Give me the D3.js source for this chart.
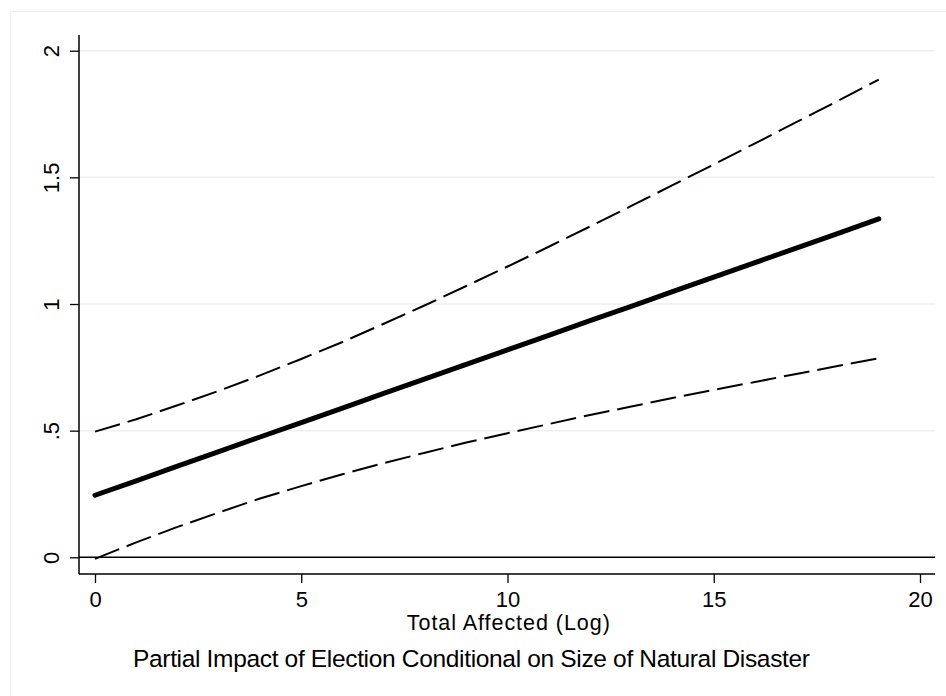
<!DOCTYPE html>
<html>
<head>
<meta charset="utf-8">
<script src="https://cdn.jsdelivr.net/npm/d3@7"></script>
<style>
  html, body { margin: 0; padding: 0; background: #fff; }
  svg { display: block; }
  text { font-family: "Liberation Sans", Arial, Helvetica, sans-serif; fill: #000; }
</style>
</head>
<body>
<svg id="chart" width="946" height="696"></svg>
<script>
// ---- data ----
const xValues   = [0, 1, 2, 3, 4, 5, 6, 7, 8, 9, 10, 11, 12, 13, 14, 15, 16, 17, 18, 19];
const estimate  = [0.245, 0.302, 0.360, 0.417, 0.475, 0.532, 0.589, 0.647, 0.704, 0.762,
                   0.819, 0.876, 0.934, 0.991, 1.049, 1.106, 1.163, 1.221, 1.278, 1.336];
const upperCI   = [0.496, 0.545, 0.600, 0.657, 0.718, 0.783, 0.850, 0.922, 0.995, 1.071,
                   1.148, 1.226, 1.306, 1.387, 1.469, 1.551, 1.634, 1.718, 1.801, 1.886];
const lowerCI   = [-0.006, 0.059, 0.120, 0.177, 0.232, 0.281, 0.328, 0.372, 0.413, 0.453,
                   0.490, 0.526, 0.562, 0.595, 0.629, 0.661, 0.692, 0.724, 0.755, 0.786];
const xTicks    = [0, 5, 10, 15, 20];
const yTicks    = [0, 0.5, 1, 1.5, 2];
const yTickLabels = ["0", ".5", "1", "1.5", "2"];
const xTitle    = "Total Affected (Log)";
const chartTitle = "Partial Impact of Election Conditional on Size of Natural Disaster";

// ---- layout ----
const svg = d3.select("#chart");
const plotLeft = 79, plotRight = 935, plotTop = 35, plotBottom = 574;
const x = d3.scaleLinear().domain([0, 20]).range([95, 920]);
const y = d3.scaleLinear().domain([0, 2]).range([557.3, 50.7]);
const gridColor = "#e9f1f3";

// outer frame
svg.append("rect")
  .attr("x", 10.5).attr("y", 11.5).attr("width", 960).attr("height", 720)
  .attr("fill", "none").attr("stroke", gridColor).attr("stroke-width", 1);

// gridlines
svg.append("g").selectAll("line")
  .data(yTicks.filter(d => d !== 0))
  .join("line")
  .attr("x1", plotLeft).attr("x2", plotRight)
  .attr("y1", d => y(d)).attr("y2", d => y(d))
  .attr("stroke", gridColor).attr("stroke-width", 1.5);

// zero reference line
svg.append("line")
  .attr("x1", plotLeft).attr("x2", plotRight)
  .attr("y1", y(0)).attr("y2", y(0))
  .attr("stroke", "#000").attr("stroke-width", 1.6);

// y axis
const yAxis = d3.axisLeft(y).tickValues(yTicks)
  .tickFormat((d, i) => yTickLabels[i]).tickSize(9).tickPadding(10);
const gy = svg.append("g").attr("transform", `translate(${plotLeft},0)`).call(yAxis);
gy.select(".domain").remove();
gy.selectAll(".tick line").attr("stroke", "#000").attr("stroke-width", 1.3);
gy.selectAll(".tick text")
  .attr("x", null).attr("dy", null)
  .attr("transform", "translate(-20,0) rotate(-90)")
  .attr("text-anchor", "middle")
  .style("font-size", "22px")
  .style("font-family", '"Liberation Sans", Arial, sans-serif');
svg.append("line")
  .attr("x1", plotLeft).attr("x2", plotLeft)
  .attr("y1", plotTop).attr("y2", plotBottom)
  .attr("stroke", "#000").attr("stroke-width", 1.5);

// x axis
const xAxis = d3.axisBottom(x).tickValues(xTicks).tickFormat(d3.format("d")).tickSize(9).tickPadding(4);
const gx = svg.append("g").attr("transform", `translate(0,${plotBottom})`).call(xAxis);
gx.select(".domain").remove();
gx.selectAll(".tick line").attr("stroke", "#000").attr("stroke-width", 1.3);
gx.selectAll(".tick text")
  .attr("dy", null).attr("y", 32.5)
  .style("font-size", "22px")
  .style("font-family", '"Liberation Sans", Arial, sans-serif');
svg.append("line")
  .attr("x1", plotLeft).attr("x2", plotRight)
  .attr("y1", plotBottom).attr("y2", plotBottom)
  .attr("stroke", "#000").attr("stroke-width", 1.5);

// lines
const pts = arr => xValues.map((xv, i) => [xv, arr[i]]);
const line = d3.line().x(d => x(d[0])).y(d => y(d[1]));

svg.append("path").datum(pts(upperCI))
  .attr("d", line).attr("fill", "none").attr("stroke", "#000")
  .attr("stroke-width", 2).attr("stroke-dasharray", "26,8");
svg.append("path").datum(pts(lowerCI))
  .attr("d", line).attr("fill", "none").attr("stroke", "#000")
  .attr("stroke-width", 2).attr("stroke-dasharray", "26,8");
svg.append("path").datum(pts(estimate))
  .attr("d", line).attr("fill", "none").attr("stroke", "#000")
  .attr("stroke-width", 5).attr("stroke-linecap", "round");

// titles
svg.append("text")
  .attr("x", 508.3).attr("y", 630)
  .attr("text-anchor", "middle")
  .attr("textLength", 203).attr("lengthAdjust", "spacing")
  .style("font-size", "21.5px")
  .text(xTitle);
svg.append("text")
  .attr("x", 471.5).attr("y", 667)
  .attr("text-anchor", "middle")
  .attr("textLength", 677).attr("lengthAdjust", "spacing")
  .style("font-size", "24.5px")
  .text(chartTitle);
</script>
</body>
</html>
